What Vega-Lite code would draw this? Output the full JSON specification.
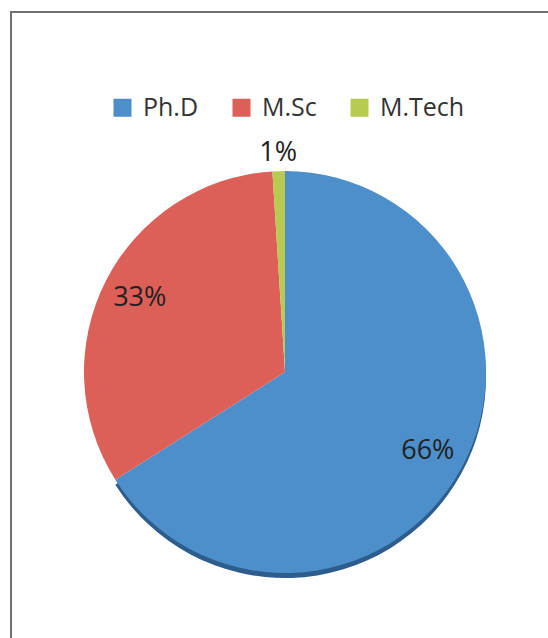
{
  "$schema": "https://vega.github.io/schema/vega-lite/v6.json",
  "autosize": {"type": "none"},
  "padding": {"left": 11, "top": 12, "right": 0, "bottom": 0},
  "width": 548,
  "height": 720,
  "background": "white",
  "view": {"stroke": "#707070", "strokeWidth": 2, "fill": "white"},
  "config": {
    "font": "Open Sans"
  },
  "data": {
    "values": [
      {"degree": "Ph.D", "share": 0.66},
      {"degree": "M.Sc", "share": 0.33},
      {"degree": "M.Tech", "share": 0.01}
    ]
  },
  "encoding": {
    "theta": {"field": "share", "type": "quantitative", "stack": true},
    "order": {"field": "share", "type": "quantitative", "sort": "descending"}
  },
  "layer": [
    {
      "mark": {"type": "arc", "radius": 201, "yOffset": 5},
      "encoding": {
        "color": {
          "condition": {"test": "datum.degree === 'Ph.D'", "value": "#2c5d8c"},
          "value": "rgba(0,0,0,0)"
        }
      }
    },
    {
      "mark": {"type": "arc", "radius": 201},
      "encoding": {
        "color": {
          "field": "degree",
          "type": "nominal",
          "scale": {
            "domain": ["Ph.D", "M.Sc", "M.Tech"],
            "range": ["#4d8fcb", "#dc5f58", "#b6cb50"]
          },
          "legend": {
            "orient": "none",
            "legendX": 99,
            "legendY": 83,
            "direction": "horizontal",
            "title": null,
            "padding": 0,
            "symbolType": "square",
            "symbolSize": 324,
            "symbolStrokeWidth": 0,
            "symbolOpacity": 1,
            "labelOffset": 8,
            "columnPadding": 30,
            "labelFont": "Open Sans",
            "labelFontSize": 25,
            "labelColor": "#333333"
          }
        }
      }
    },
    {
      "mark": {"type": "text", "radius": 163, "fontSize": 27, "font": "Open Sans", "color": "#222222", "align": "center", "baseline": "middle"},
      "encoding": {
        "text": {
          "condition": {"test": "datum.share >= 0.1", "field": "share", "type": "quantitative", "format": ".0%"},
          "value": ""
        }
      }
    },
    {
      "mark": {"type": "text", "radius": 219, "fontSize": 27, "font": "Open Sans", "color": "#222222", "align": "center", "baseline": "middle"},
      "encoding": {
        "text": {
          "condition": {"test": "datum.share < 0.1", "field": "share", "type": "quantitative", "format": ".0%"},
          "value": ""
        }
      }
    }
  ]
}
